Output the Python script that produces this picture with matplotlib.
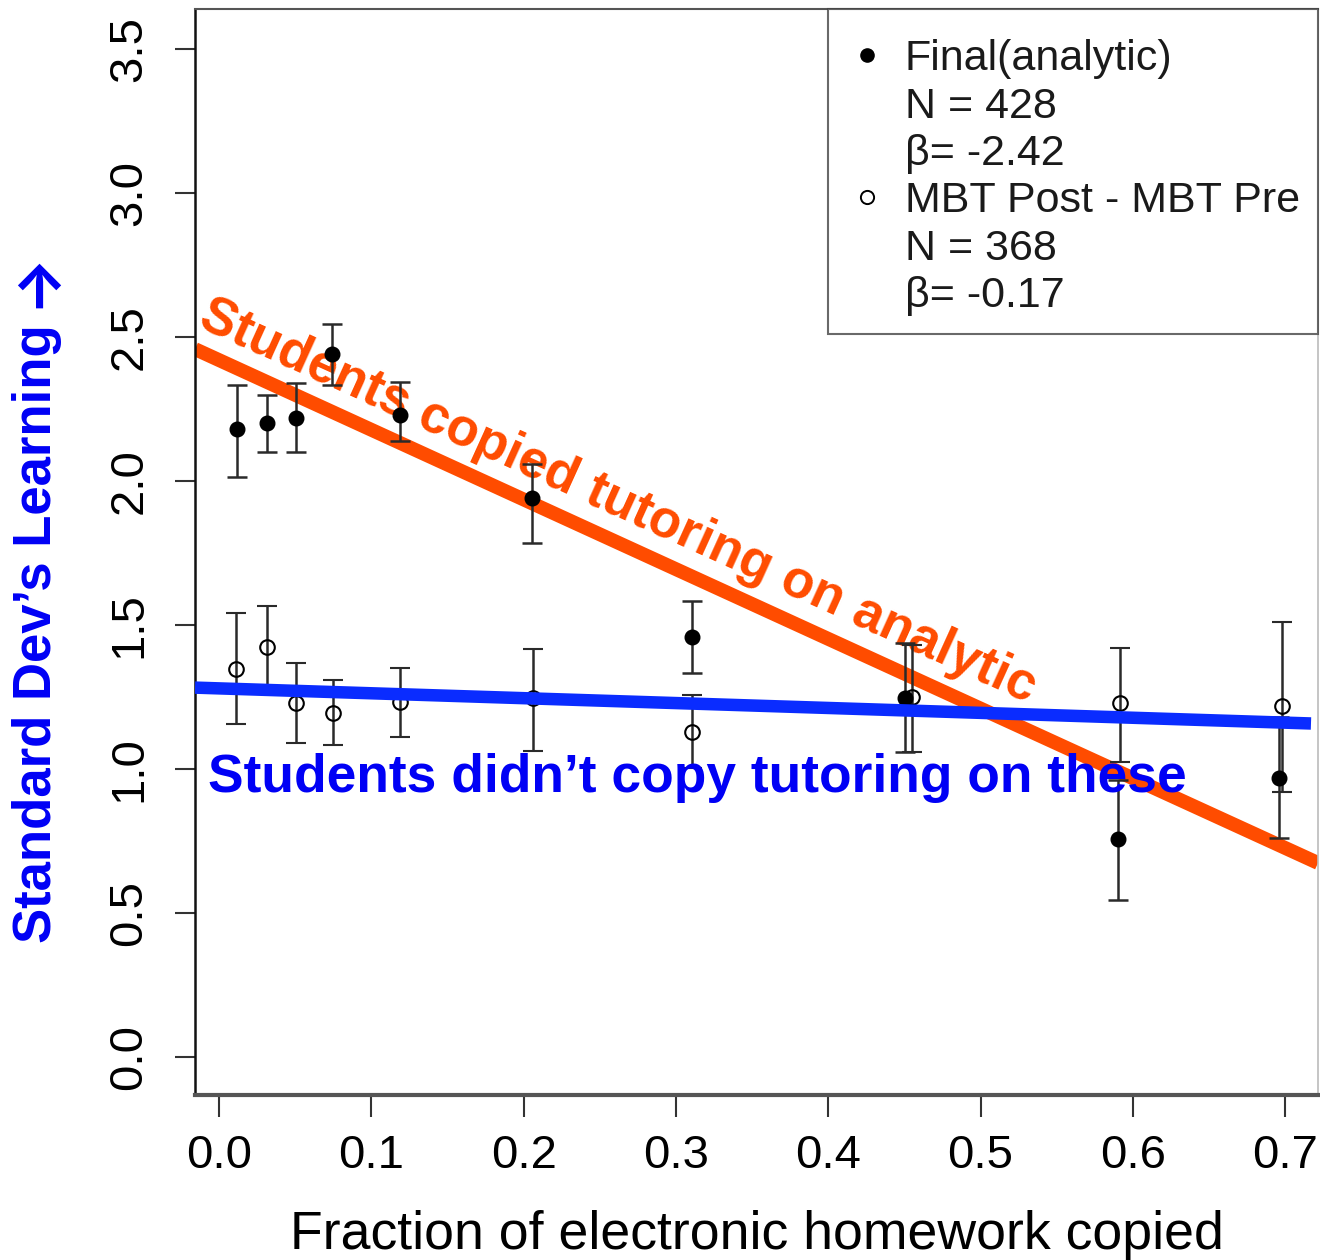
import matplotlib
matplotlib.use("Agg")
import matplotlib.pyplot as plt
from matplotlib.lines import Line2D
import numpy as np

plt.rcParams['font.family'] = ['Liberation Sans', 'DejaVu Sans']

# Final exam (analytic) – filled points
final_x = [0.0116, 0.0317, 0.0506, 0.0740, 0.1188, 0.2053, 0.3104, 0.4504, 0.5903, 0.6960]
final_y = [2.18, 2.20, 2.22, 2.44, 2.23, 1.94, 1.46, 1.245, 0.757, 0.97]
final_lo = [2.015, 2.10, 2.10, 2.335, 2.14, 1.785, 1.333, 1.06, 0.545, 0.76]
final_hi = [2.335, 2.30, 2.34, 2.545, 2.345, 2.06, 1.583, 1.437, 0.962, 1.18]

# MBT post - MBT pre – open points
mbt_x = [0.0110, 0.0313, 0.0506, 0.0747, 0.1188, 0.2062, 0.3104, 0.4548, 0.5916, 0.6980]
mbt_y = [1.349, 1.425, 1.228, 1.196, 1.234, 1.247, 1.130, 1.251, 1.228, 1.219]
mbt_lo = [1.156, 1.285, 1.090, 1.083, 1.111, 1.063, 1.005, 1.060, 1.024, 0.920]
mbt_hi = [1.541, 1.566, 1.368, 1.309, 1.351, 1.417, 1.257, 1.430, 1.420, 1.510]

# fitted trends
final_beta, final_icpt = -2.42, 2.42
mbt_beta, mbt_icpt = -0.17, 1.28

x_ticks = [0.0, 0.1, 0.2, 0.3, 0.4, 0.5, 0.6, 0.7]
y_ticks = [0.0, 0.5, 1.0, 1.5, 2.0, 2.5, 3.0, 3.5]

ORANGE = '#FF4C00'
BLUE_LINE = '#0A2CFF'
BLUE_TEXT = '#0000F5'
BAR = '#2a2a2a'

fig = plt.figure(figsize=(13.2, 12.6), dpi=100)
ax = fig.add_axes([195 / 1320, 165 / 1260, 1123 / 1320, 1086 / 1260])
ax.set_xlim(-0.01576, 0.7216)
ax.set_ylim(-0.1319, 3.639)


def err(y, lo, hi):
    y = np.asarray(y)
    return [y - np.asarray(lo), np.asarray(hi) - y]


# orange trend (behind the data)
xx = np.array([-0.01576, 0.7216])
ax.plot(xx, final_icpt + final_beta * xx, color=ORANGE, lw=10, zorder=2,
        solid_capstyle='butt')

ax.errorbar(final_x, final_y, yerr=err(final_y, final_lo, final_hi), fmt='o',
            color='black', ecolor=BAR, elinewidth=1.8, capsize=7, capthick=1.8,
            markersize=10.5, zorder=3)
ax.errorbar(mbt_x, mbt_y, yerr=err(mbt_y, mbt_lo, mbt_hi), fmt='o',
            mfc='none', mec='black', mew=1.5, ecolor=BAR, elinewidth=1.8,
            capsize=7, capthick=1.8, markersize=10.5, zorder=3)

# blue trend (over the data)
xb = np.array([-0.01576, 0.717])
ax.plot(xb, mbt_icpt + mbt_beta * xb, color=BLUE_LINE, lw=9, zorder=4,
        solid_capstyle='butt')

ax.text(-0.0145, 2.538, 'Students copied tutoring on analytic', color=ORANGE,
        fontsize=38, fontweight='bold', rotation=-24.4, rotation_mode='anchor',
        ha='left', va='baseline', zorder=1)
ax.text(-0.0072, 0.920, 'Students didn\u2019t copy tutoring on these', color=BLUE_TEXT,
        fontsize=38.4, fontweight='bold', ha='left', va='baseline', zorder=5)

ax.set_xticks(x_ticks)
ax.set_xticklabels([f'{v:.1f}' for v in x_ticks])
ax.set_yticks(y_ticks)
ax.set_yticklabels([f'{v:.1f}' for v in y_ticks], rotation=90, va='center')
ax.tick_params(axis='x', length=16, width=1.5, pad=12, labelsize=34, color='#333333')
ax.tick_params(axis='y', length=14.5, width=1.5, pad=17, labelsize=34, color='#333333')

ax.spines['left'].set_linewidth(1.8)
ax.spines['left'].set_color('#111111')
ax.spines['bottom'].set_linewidth(3)
ax.spines['bottom'].set_color('#555555')
ax.spines['top'].set_linewidth(1.5)
ax.spines['top'].set_color('#555555')
ax.spines['right'].set_linewidth(1.2)
ax.spines['right'].set_color('#bbbbbb')

ax.set_xlabel('Fraction of electronic homework copied', fontsize=38.6, labelpad=23)
ax.set_ylabel('Standard Dev\u2019s Learning', fontsize=38,
              fontweight='bold', color=BLUE_TEXT, va='center')
ax.yaxis.set_label_coords(-0.141, 0.4245)
# arrow at the end of the y label
fig.text(36 / 1320, 1 - 279 / 1260, '\u2192', family=['Inter', 'DejaVu Sans'],
         fontsize=44, fontweight='bold', color=BLUE_TEXT, rotation=90,
         ha='center', va='center')

blank = Line2D([], [], ls='none', marker=None)
handles = [
    Line2D([], [], ls='none', marker='o', color='black', markersize=9.5),
    blank, blank,
    Line2D([], [], ls='none', marker='o', mfc='none', mec='black', mew=1.4, markersize=9.5),
    blank, blank,
]
labels = ['Final(analytic)', 'N = 428', '\u03b2= -2.42',
          'MBT Post - MBT Pre', 'N = 368', '\u03b2= -0.17']
leg = ax.legend(handles, labels, loc='upper right', bbox_to_anchor=(1.0, 1.0),
                borderaxespad=0, fontsize=31, frameon=True, fancybox=False,
                handlelength=0.975, handletextpad=0.395, borderpad=0.42,
                labelspacing=0.17, title=' ', title_fontsize=4)
for t in leg.get_texts():
    t.set_color('#1a1a1a')
leg.get_frame().set_edgecolor('#444444')
leg.get_frame().set_linewidth(1.5)
leg.set_zorder(6)

fig.savefig('out.png', dpi=100)
